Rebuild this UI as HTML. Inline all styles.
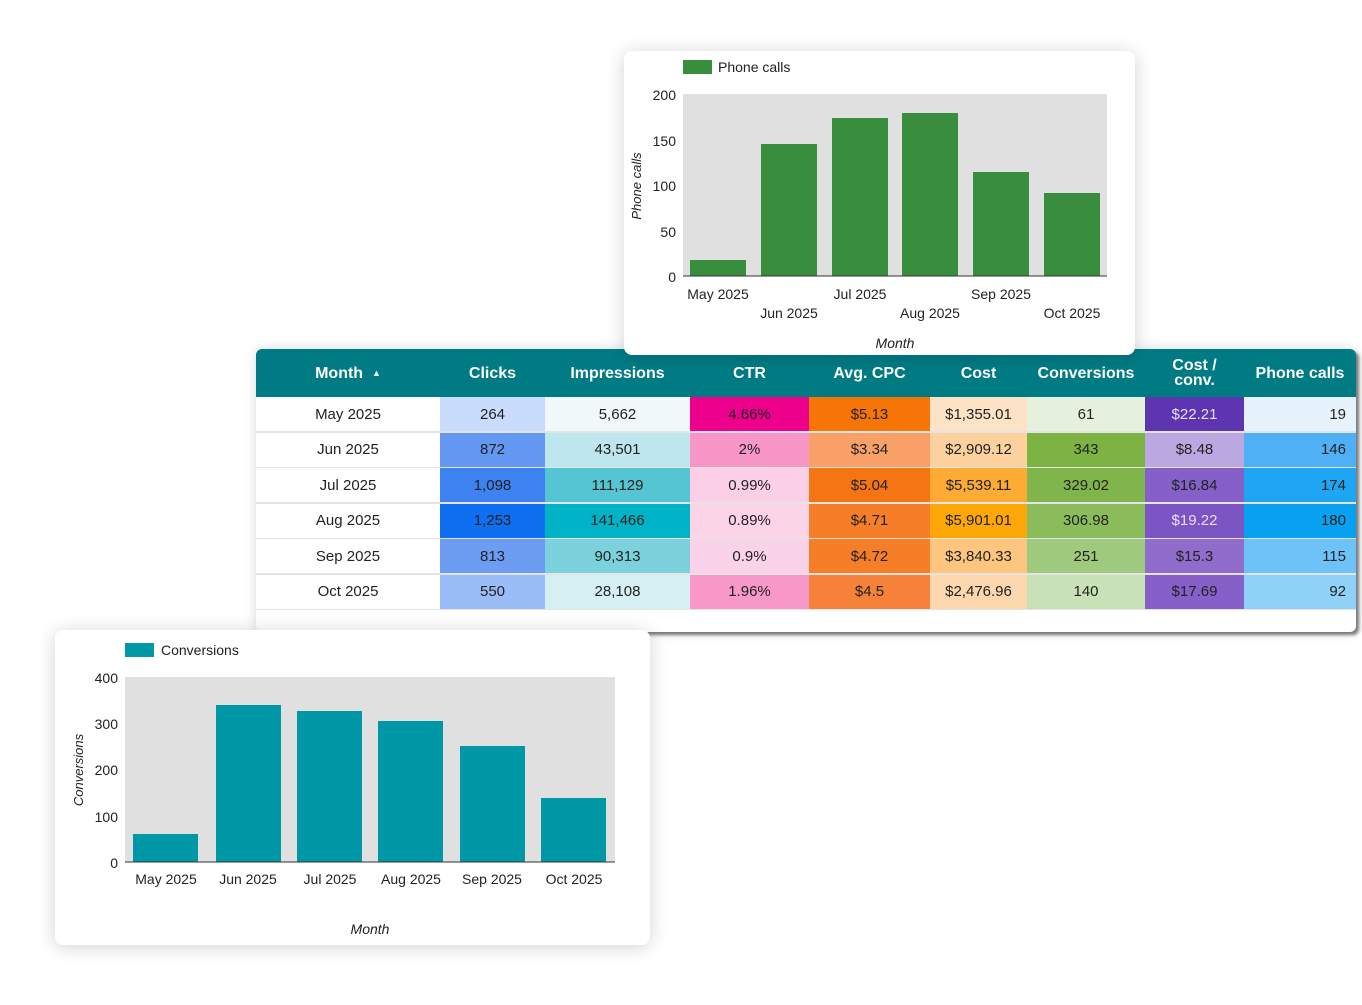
<!DOCTYPE html>
<html><head><style>
body{margin:0;width:1362px;height:1005px;background:#fff;position:relative;overflow:hidden;font-family:"Liberation Sans",Arial,sans-serif;}
.card{position:absolute;background:#fff;border-radius:8px;box-shadow:0 2px 18px rgba(0,0,0,0.18);}
.tbl{position:absolute;left:256px;top:349px;width:1100px;height:283px;background:#fff;border-radius:6px;box-shadow:3px 3px 3px rgba(0,0,0,0.5),0 0 12px rgba(0,0,0,0.15);overflow:hidden;}
.hdr{position:absolute;left:0;top:0;width:1100px;height:48px;background:#007b84;}
.h{position:absolute;top:0;height:48px;display:flex;align-items:center;justify-content:center;color:#fff;font-weight:bold;font-size:16px;text-align:center;line-height:15px;}
.c{position:absolute;height:34px;display:flex;align-items:center;justify-content:center;font-size:15px;color:#222;}
svg text{font-family:"Liberation Sans",Arial,sans-serif;}
</style></head><body>
<div class="tbl">
<div class="hdr"></div>
<div class="h" style="left:0;width:184px">Month &nbsp;<span style="font-size:9px">▲</span></div>
<div class="h" style="left:184px;width:105px">Clicks</div>
<div class="h" style="left:289px;width:145px">Impressions</div>
<div class="h" style="left:434px;width:119px">CTR</div>
<div class="h" style="left:553px;width:121px">Avg. CPC</div>
<div class="h" style="left:674px;width:97px">Cost</div>
<div class="h" style="left:771px;width:118px">Conversions</div>
<div class="h" style="left:889px;width:99px">Cost /<br>conv.</div>
<div class="h" style="left:988px;width:112px">Phone calls</div>
<div id="rows"></div>
</div>
<script>
var d=[["May 2025","264","#c9dcfb","5,662","#f0f8fa","4.66%","#ec008c","$5.13","#f57507","$1,355.01","#fde3c5","61","#e5f1dc","$22.21","#5e35b1","19","#e6f3fd"],
["Jun 2025","872","#6497f2","43,501","#bde6ed","2%","#f896c8","$3.34","#f9a069","$2,909.12","#fdd19d","343","#7cb342","$8.48","#bca8e0","146","#4fb0f5"],
["Jul 2025","1,098","#3e82f2","111,129","#55c5d4","0.99%","#fbd0e6","$5.04","#f57512","$5,539.11","#fdab35","329.02","#80b54b","$16.84","#8560c9","174","#1ea6f4"],
["Aug 2025","1,253","#0f6ff0","141,466","#00b3c6","0.89%","#fbd4e8","$4.71","#f67e28","$5,901.01","#fea708","306.98","#8bbc5c","$19.22","#7c55c4","180","#08a0f1"],
["Sep 2025","813","#6d9cf3","90,313","#7bd2dd","0.9%","#fbd3e8","$4.72","#f67e27","$3,840.33","#fdc57e","251","#9fc97c","$15.3","#906dcd","115","#6dc2f7"],
["Oct 2025","550","#9bbdf7","28,108","#d6eff3","1.96%","#f898c8","$4.5","#f6823a","$2,476.96","#fdd8ae","140","#c9e1b6","$17.69","#8660c8","92","#90d1f8"]];
var L=[0,184,289,434,553,674,771,889,988,1100],h="";
d.forEach(function(r,i){var t=48+i*35.5;
h+='<div class="c" style="left:0;top:'+t+'px;width:184px;background:#fff">'+r[0]+'</div>';
for(var k=1;k<9;k++){var v=r[2*k-1],bg=r[2*k],col=(v=="$22.21"||v=="$19.22")?"#e8e0f8":"#222";
var al=k==8?'justify-content:flex-end;padding-right:10px;box-sizing:border-box;':'';
h+='<div class="c" style="left:'+L[k]+'px;top:'+t+'px;width:'+(L[k+1]-L[k])+'px;background:'+bg+';color:'+col+';'+al+'">'+v+'</div>';}
h+='<div style="position:absolute;left:0;top:'+(t+34)+'px;width:1100px;height:1.5px;background:#e4e4e4"></div>';});
document.getElementById("rows").innerHTML=h;
</script>
<div class="card" style="left:624px;top:51px;width:511px;height:304px;"></div>
<svg style="position:absolute;left:0;top:0" width="1362" height="1005">
<rect x="683" y="60" width="29" height="14" fill="#388e3c"/>
<text x="718" y="72" font-size="14" fill="#222">Phone calls</text>
<rect x="683" y="94" width="424" height="182" fill="#e0e0e0"/>
<g fill="#388e3c">
<rect x="690" y="260" width="56" height="16"/><rect x="761" y="144" width="56" height="132"/>
<rect x="832" y="118" width="56" height="158"/><rect x="902" y="113" width="56" height="163"/>
<rect x="973" y="172" width="56" height="104"/><rect x="1044" y="193" width="56" height="83"/></g>
<line x1="683" y1="276" x2="1107" y2="276" stroke="#333"/>
<g font-size="14" fill="#222" text-anchor="end">
<text x="676" y="100">200</text><text x="676" y="146">150</text><text x="676" y="191">100</text><text x="676" y="237">50</text><text x="676" y="282">0</text></g>
<g font-size="14" fill="#222" text-anchor="middle">
<text x="718" y="299">May 2025</text><text x="789" y="318">Jun 2025</text><text x="860" y="299">Jul 2025</text>
<text x="930" y="318">Aug 2025</text><text x="1001" y="299">Sep 2025</text><text x="1072" y="318">Oct 2025</text>
<text x="895" y="348" font-style="italic">Month</text>
<text transform="translate(641,186) rotate(-90)" font-style="italic" font-size="13">Phone calls</text></g>
</svg>
<div class="card" style="left:55px;top:630px;width:595px;height:315px;"></div>
<svg style="position:absolute;left:0;top:0" width="1362" height="1005">
<rect x="125" y="643" width="29" height="14" fill="#0097a7"/>
<text x="161" y="655" font-size="14" fill="#222">Conversions</text>
<rect x="125" y="677" width="490" height="185" fill="#e0e0e0"/>
<g fill="#0097a7">
<rect x="133" y="834" width="65" height="28"/><rect x="216" y="705" width="65" height="157"/>
<rect x="297" y="711" width="65" height="151"/><rect x="378" y="721" width="65" height="141"/>
<rect x="460" y="746" width="65" height="116"/><rect x="541" y="798" width="65" height="64"/></g>
<line x1="125" y1="862" x2="615" y2="862" stroke="#333"/>
<g font-size="14" fill="#222" text-anchor="end">
<text x="118" y="683">400</text><text x="118" y="729">300</text><text x="118" y="775">200</text><text x="118" y="822">100</text><text x="118" y="868">0</text></g>
<g font-size="14" fill="#222" text-anchor="middle">
<text x="166" y="884">May 2025</text><text x="248" y="884">Jun 2025</text><text x="330" y="884">Jul 2025</text>
<text x="411" y="884">Aug 2025</text><text x="492" y="884">Sep 2025</text><text x="574" y="884">Oct 2025</text>
<text x="370" y="934" font-style="italic">Month</text>
<text transform="translate(83,770) rotate(-90)" font-style="italic" font-size="13">Conversions</text></g>
</svg>
</body></html>
